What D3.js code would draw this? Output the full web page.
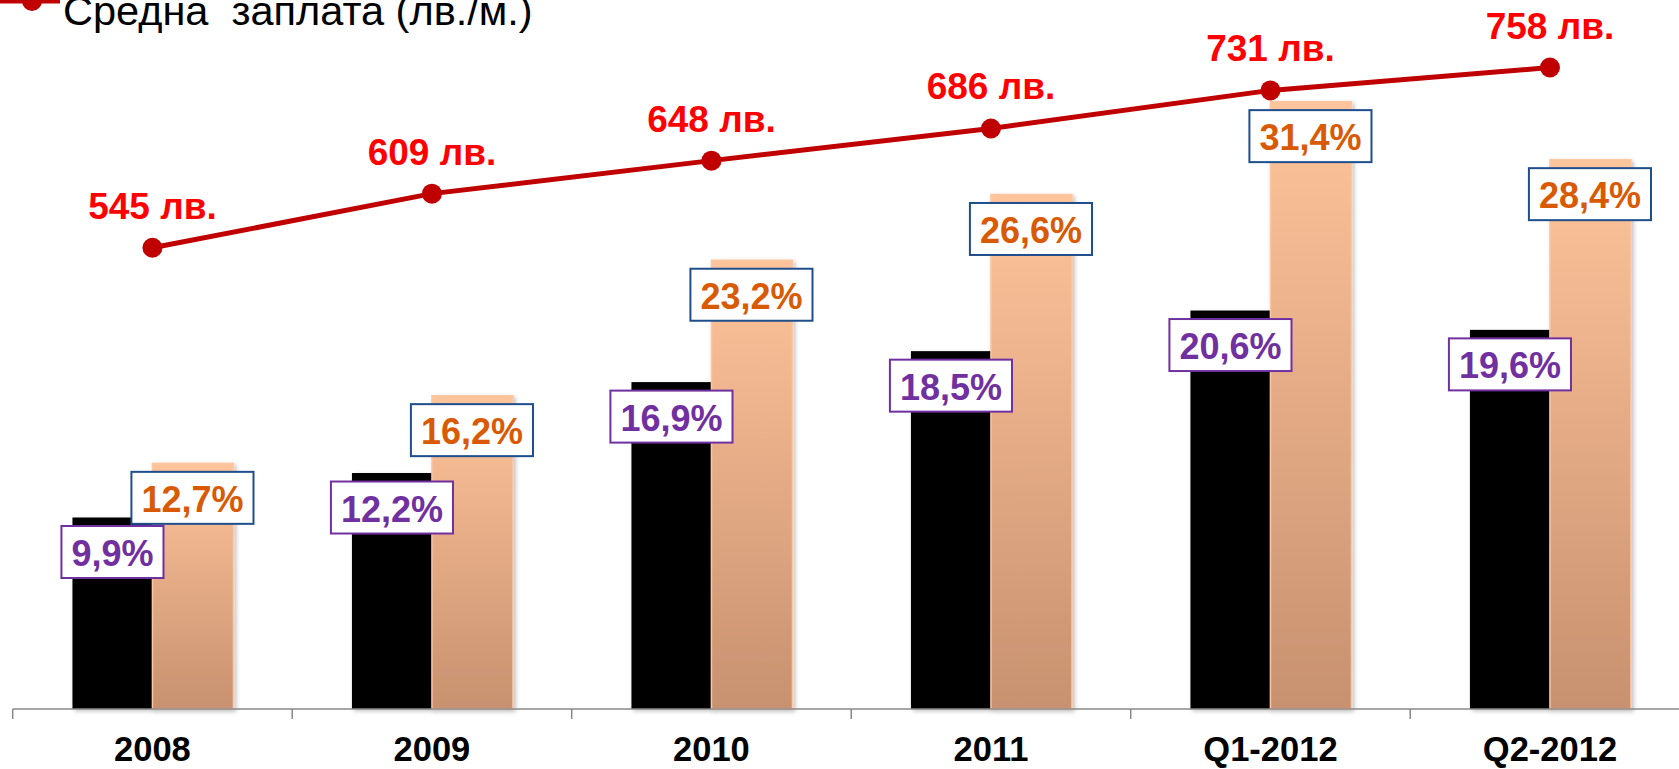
<!DOCTYPE html>
<html>
<head>
<meta charset="utf-8">
<script src="https://cdn.jsdelivr.net/npm/d3@7"></script>
<style>
  html, body { margin: 0; padding: 0; background: #fff; overflow: hidden; }
  svg { display: block; font-family: "Liberation Sans", Arial, sans-serif; }
</style>
</head>
<body>
<svg id="chart" width="1679" height="769"></svg>
<script>
const categories = ["2008", "2009", "2010", "2011", "Q1-2012", "Q2-2012"];
const blackValues = [9.9, 12.2, 16.9, 18.5, 20.6, 19.6];
const orangeValues = [12.7, 16.2, 23.2, 26.6, 31.4, 28.4];
const salaryValues = [545, 609, 648, 686, 731, 758];
const legendLabel = "Средна  заплата (лв./м.)";
const fmtPct = v => d3.format(".1f")(v).replace(".", ",") + "%";
const fmtSal = v => v + " лв.";

const W = 1679, H = 769;
const plotTop = 32, plotBottom = 709;
const xLeft = 12.7, bandW = 279.5;

const svg = d3.select("#chart");
const defs = svg.append("defs");
const grad = defs.append("linearGradient").attr("id", "og")
  .attr("x1", 0).attr("y1", 0).attr("x2", 0).attr("y2", 1);
grad.append("stop").attr("offset", "0%").attr("stop-color", "#FEC49B");
grad.append("stop").attr("offset", "100%").attr("stop-color", "#C8916F");
const f = defs.append("filter").attr("id", "sh").attr("x", "-20%").attr("y", "-20%").attr("width", "140%").attr("height", "140%");
f.append("feDropShadow").attr("dx", 2).attr("dy", 2).attr("stdDeviation", 2)
  .attr("flood-color", "#000").attr("flood-opacity", 0.25);

const x0 = d3.scaleBand().domain(categories).range([xLeft, xLeft + bandW * categories.length]).padding(0);
const x1 = d3.scaleBand().domain(["b", "o"]).range([bandW / 2 - 80, bandW / 2 + 80]).padding(0);
const y = d3.scaleLinear().domain([0, 35]).range([plotBottom, plotTop]);
const y2 = d3.scaleLinear().domain([0, 800]).range([plotBottom, plotTop]);

const groups = svg.append("g").selectAll("g").data(categories).join("g")
  .attr("transform", d => `translate(${x0(d)},0)`);

// black bars
groups.append("rect")
  .attr("x", x1("b")).attr("width", x1.bandwidth())
  .attr("y", (d, i) => y(blackValues[i]))
  .attr("height", (d, i) => y(0) - y(blackValues[i]))
  .attr("fill", "#000").attr("filter", "url(#sh)");

// orange bars
groups.append("rect")
  .attr("x", x1("o")).attr("width", x1.bandwidth() + 1)
  .attr("y", (d, i) => y(orangeValues[i]))
  .attr("height", (d, i) => y(0) - y(orangeValues[i]))
  .attr("fill", "url(#og)").attr("stroke", "#FDC7A3").attr("stroke-width", 1.5)
  .attr("filter", "url(#sh)");

// axis
const axisG = svg.append("g").attr("transform", `translate(0,${plotBottom})`);
axisG.append("line").attr("x1", xLeft).attr("x2", W).attr("y1", 0).attr("y2", 0)
  .attr("stroke", "#888").attr("stroke-width", 1.5);
const tickPos = categories.map(c => x0(c));
axisG.selectAll("line.tick").data(tickPos).join("line").attr("class", "tick")
  .attr("x1", d => d).attr("x2", d => d).attr("y1", 0).attr("y2", 10)
  .attr("stroke", "#888").attr("stroke-width", 1.5);
axisG.selectAll("text").data(categories).join("text")
  .attr("x", d => x0(d) + bandW / 2).attr("y", 52)
  .attr("text-anchor", "middle").attr("font-weight", "bold")
  .attr("font-size", 34.5).attr("fill", "#000").text(d => d);

// label boxes
function labelBox(g, cx, topY, text, textColor, borderColor) {
  const t = g.append("text").attr("x", cx).attr("y", topY + 40)
    .attr("text-anchor", "middle").attr("font-weight", "bold").attr("font-size", 36)
    .attr("fill", textColor).text(text);
  const w = t.node().getComputedTextLength() + 20;
  g.insert("rect", "text:last-child")
    .attr("x", cx - w / 2).attr("y", topY).attr("width", w).attr("height", 52)
    .attr("fill", "#fff").attr("stroke", borderColor).attr("stroke-width", 2);
}
groups.each(function(d, i) {
  const g = d3.select(this);
  const lg1 = g.append("g");
  labelBox(lg1, x1("b") + x1.bandwidth() / 2, y(blackValues[i]) + 8.5, fmtPct(blackValues[i]), "#7030A0", "#7030A0");
  const lg2 = g.append("g");
  labelBox(lg2, x1("o") + x1.bandwidth() / 2, y(orangeValues[i]) + 8.5, fmtPct(orangeValues[i]), "#D95A04", "#1F4E8C");
});

// line
const cx = c => x0(c) + bandW / 2;
const line = d3.line().x((d, i) => cx(categories[i])).y(d => y2(d));
svg.append("path").datum(salaryValues).attr("d", line)
  .attr("fill", "none").attr("stroke", "#C00000").attr("stroke-width", 5);
svg.append("g").selectAll("circle").data(salaryValues).join("circle")
  .attr("cx", (d, i) => cx(categories[i])).attr("cy", d => y2(d)).attr("r", 10)
  .attr("fill", "#C00000");
svg.append("g").selectAll("text").data(salaryValues).join("text")
  .attr("x", (d, i) => cx(categories[i])).attr("y", d => y2(d) - 29)
  .attr("text-anchor", "middle").attr("font-weight", "bold").attr("font-size", 37)
  .attr("fill", "#FF0000").text(d => fmtSal(d));

// legend
const lg = svg.append("g");
lg.append("line").attr("x1", 0).attr("x2", 60).attr("y1", 1).attr("y2", 1)
  .attr("stroke", "#C00000").attr("stroke-width", 5);
lg.append("circle").attr("cx", 32).attr("cy", 1).attr("r", 10).attr("fill", "#C00000");
lg.append("text").attr("x", 63).attr("y", 25).attr("font-size", 41.5).attr("fill", "#000")
  .attr("xml:space", "preserve").style("white-space", "pre").text(legendLabel);
</script>
</body>
</html>
